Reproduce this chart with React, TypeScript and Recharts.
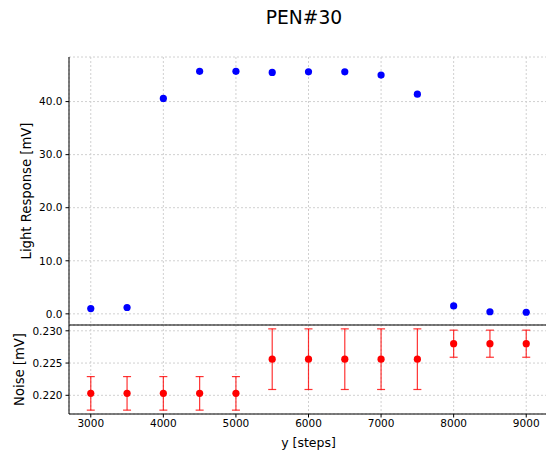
import React from "react";
import { ScatterChart, Scatter, XAxis, YAxis, CartesianGrid, ErrorBar, ReferenceLine } from "recharts";

const steps = [3000, 3500, 4000, 4500, 5000, 5500, 6000, 6500, 7000, 7500, 8000, 8500, 9000];
const lightResponse = [1.0, 1.2, 40.6, 45.7, 45.7, 45.5, 45.6, 45.6, 45.0, 41.4, 1.5, 0.4, 0.3];
const noise = [0.2203, 0.2203, 0.2203, 0.2203, 0.2203, 0.2256, 0.2256, 0.2256, 0.2256, 0.2256, 0.228, 0.228, 0.228];
const noiseErr = [0.0026, 0.0026, 0.0026, 0.0026, 0.0026, 0.0047, 0.0047, 0.0047, 0.0047, 0.0047, 0.0021, 0.0021, 0.0021];
const xTicks = [3000, 4000, 5000, 6000, 7000, 8000, 9000];
const lightTicks = [0, 10, 20, 30, 40];
const noiseTicks = [0.22, 0.225, 0.23];
const noiseTop = 0.2309;

const topData = steps.map((s, i) => ({ x: s, y: lightResponse[i] }));
const botData = steps.map((s, i) => ({ x: s, y: noise[i], err: noiseErr[i] }));

const FONT = "DejaVu Sans";
const tickStyle = { fontFamily: FONT, fontSize: 10.5, fill: "#000" };

const dot = (color: string) => (p: any) => <circle cx={p.cx} cy={p.cy} r={3.6} fill={color} />;

const vLabel = (text: string, x: number) => (props: any) => {
  const vb = props.viewBox;
  const cy = vb.y + vb.height / 2;
  return (
    <text x={x} y={cy} transform={`rotate(-90, ${x}, ${cy})`} textAnchor="middle" dominantBaseline="central"
      style={{ fontFamily: FONT, fontSize: 13.2, fill: "#000" }}>{text}</text>
  );
};

export default function App() {
  return (
    <div style={{ position: "absolute", left: 0, top: 0, width: 546, height: 452, overflow: "hidden", background: "#fff" }}>
      <div style={{ position: "absolute", left: 204, width: 200, top: 7, textAlign: "center", fontFamily: FONT, fontSize: 18.7, color: "#000" }}>PEN#30</div>
      <div style={{ position: "absolute", left: 0, top: 0 }}>
        <ScatterChart width={560} height={326} margin={{ top: 57, right: 12, bottom: 1, left: 0 }}>
          <CartesianGrid stroke="#d0d0d0" strokeDasharray="2 2" />
          <XAxis type="number" dataKey="x" domain={[2700, 9300]} ticks={xTicks} hide />
          <XAxis xAxisId="top" orientation="top" type="number" dataKey="x" domain={[2700, 9300]} ticks={xTicks} height={0} tick={false} tickLine={false} axisLine={{ stroke: "#000" }} />
          <YAxis type="number" dataKey="y" domain={[-2.1, 48.4]} ticks={lightTicks} width={69} tickSize={3.5} tickMargin={3}
            tick={tickStyle} tickFormatter={(v: number) => v.toFixed(1)} axisLine={{ stroke: "#000" }} tickLine={{ stroke: "#000" }}
            label={{ content: vLabel("Light Response [mV]", 26) }} />
          <Scatter data={topData} isAnimationActive={false} shape={dot("#0000ff")} />
        </ScatterChart>
      </div>
      <div style={{ position: "absolute", left: 0, top: 300 }}>
        <ScatterChart width={560} height={152} margin={{ top: 25, right: 12, bottom: 0, left: 0 }}>
          <CartesianGrid stroke="#d0d0d0" strokeDasharray="2 2" />
          <XAxis type="number" dataKey="x" domain={[2700, 9300]} ticks={xTicks} height={38} tickSize={3.5} tickMargin={2}
            tick={tickStyle} axisLine={{ stroke: "#000" }} tickLine={{ stroke: "#000" }}
            label={{ value: "y [steps]", position: "insideBottom", offset: 5, style: { fontFamily: FONT, fontSize: 12.5, fill: "#000" } }} />
          <YAxis type="number" dataKey="y" domain={[0.2171, noiseTop]} ticks={noiseTicks} width={69} tickSize={3.5} tickMargin={3}
            tick={tickStyle} tickFormatter={(v: number) => v.toFixed(3)} axisLine={{ stroke: "#000" }} tickLine={{ stroke: "#000" }}
            label={{ content: vLabel("Noise [mV]", 19) }} />
          <ReferenceLine y={noiseTop} stroke="#000" strokeWidth={1.2} ifOverflow="visible" />
          <Scatter data={botData} isAnimationActive={false} shape={dot("#ff0000")}>
            <ErrorBar dataKey="err" direction="y" width={4} stroke="#ff0000" strokeOpacity={0.8} strokeWidth={1.2} />
          </Scatter>
        </ScatterChart>
      </div>
    </div>
  );
}
